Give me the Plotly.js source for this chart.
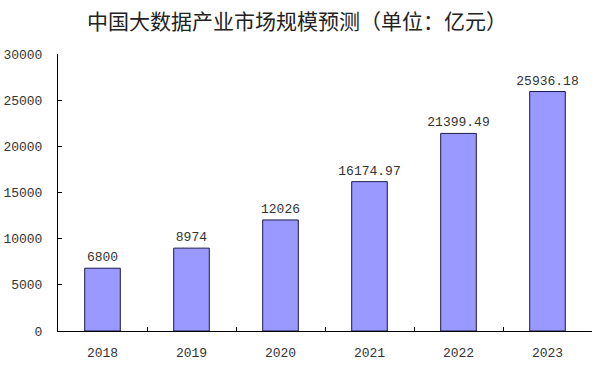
<!DOCTYPE html>
<html><head><meta charset="utf-8">
<script src="https://cdn.plot.ly/plotly-3.0.1.min.js"></script>
<style>html,body{margin:0;padding:0;background:#fff}#c{width:600px;height:369px}</style>
</head><body><div id="c"></div>
<script>
const years = ['2018','2019','2020','2021','2022','2023'];
const values = [6800, 8974, 12026, 16174.97, 21399.49, 25936.18];
const labels = ['6800','8974','12026','16174.97','21399.49','25936.18'];
const yTicks = [0,5000,10000,15000,20000,25000,30000];
const yTickText = ['0','5000','10000','15000','20000','25000','30000'];
const titleText = '中国大数据产业市场规模预测（单位：亿元）';

const monoFont = {family:'Liberation Mono, DejaVu Sans Mono, monospace', size:13, color:'#333'};
Plotly.newPlot('c', [{
  type:'bar', x:years, y:values, text:labels, textposition:'outside', cliponaxis:false,
  constraintext:'none',
  textfont:monoFont,
  marker:{color:'#9999ff', line:{color:'#1a1a4d', width:1}},
  hoverinfo:'none'
}], {
  width:600, height:369,
  margin:{l:58, r:8, t:54, b:38},
  paper_bgcolor:'#fff', plot_bgcolor:'#fff',
  bargap:0.6,
  showlegend:false,
  title:{text:titleText, x:0.495, xanchor:'center', y:0.94, yanchor:'middle',
    font:{family:'Noto Sans CJK SC', size:21, color:'#222'}},
  xaxis:{type:'category', tickson:'boundaries', ticks:'inside', ticklen:4, tickcolor:'#000',
    showline:true, linecolor:'#000', linewidth:1, showgrid:false, zeroline:false,
    tickfont:monoFont, ticklabelstandoff:9},
  yaxis:{range:[0,30000], tickvals:yTicks, ticktext:yTickText, ticks:'inside', ticklen:4, tickcolor:'#000',
    showline:true, linecolor:'#000', linewidth:1, showgrid:false, zeroline:false,
    tickfont:monoFont, ticklabelstandoff:12}
}, {staticPlot:true});
</script></body></html>
